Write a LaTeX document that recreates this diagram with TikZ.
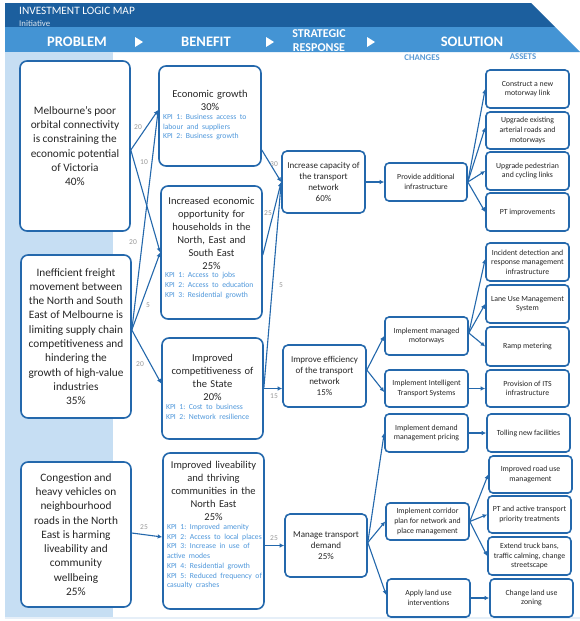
\documentclass[tikz,border=0pt]{standalone}
\usepackage{fontspec}
\setmainfont{Carlito}
\usetikzlibrary{arrows.meta}
\definecolor{bdr}{HTML}{2468AC}
\definecolor{hdark}{HTML}{1C5F9E}
\definecolor{hlight}{HTML}{4494D4}
\definecolor{pale}{HTML}{C6DEF3}
\definecolor{faint}{HTML}{E6EFF8}
\definecolor{kpic}{HTML}{4E97DB}
\definecolor{txt}{HTML}{262626}
\definecolor{lblc}{HTML}{9A9A9A}
\definecolor{subh}{HTML}{5B9BD5}
\newcommand\fsProb{\fontsize{11.3}{14.3}\selectfont}
\newcommand\fsBen{\fontsize{10.5}{13}\selectfont}
\newcommand\fsKpi{\fontsize{7.7}{9.7}\selectfont}
\newcommand\fsStr{\fontsize{9}{11}\selectfont}
\newcommand\fsSm{\fontsize{7.8}{9.6}\selectfont}
\newcommand\fsLbl{\fontsize{7.5}{9}\selectfont}
\newcommand\kpiblock[1]{\par\vspace{1pt}\noindent{\fsKpi\frenchspacing\color{kpic}\begin{tabular}{@{}l@{}}#1\end{tabular}\par}}
\begin{document}
\frenchspacing
\begin{tikzpicture}[x=1pt,y=-1pt,
  basebox/.style={draw=bdr, line width=1.6pt, fill=white, inner sep=0pt, text=txt},
  probbox/.style={basebox, rounded corners=7pt, align=center, font=\fsProb},
  benbox/.style={basebox, rounded corners=7pt, font=\fsBen},
  strbox/.style={basebox, rounded corners=5pt, align=center, font=\fsStr},
  smbox/.style={basebox, rounded corners=4pt, align=center, font=\fsSm},
  conn/.style={draw=bdr, line width=1.1pt, -{Latex[length=4.5pt,width=4.5pt]}},
  lbl/.style={text=lblc, font=\fsLbl, inner sep=0pt},
  hdr/.style={text=white, font=\fontsize{14.5}{16}\selectfont\bfseries, inner sep=0pt},
  subhdr/.style={text=subh, font=\fontsize{8.8}{10}\selectfont\bfseries, inner sep=0pt}]
\useasboundingbox (0,0) rectangle (580,621);
\fill[white] (0,0) rectangle (580,621);
% header
\fill[hdark] (5,3) -- (531,3) -- (555,27) -- (5,27) -- cycle;
\fill[hlight] (5,27) -- (555,27) -- (580,52) -- (5,52) -- cycle;
\fill[pale] (5,52) rectangle (113,617);
\draw[faint, line width=2pt] (5,618) -- (580,618);
\node[anchor=west, text=white, font=\fontsize{11.3}{13}\selectfont, inner sep=0pt] (ttl) at (19,10.5) {INVESTMENT LOGIC MAP};
\node[anchor=west, text=white!85!hdark, font=\fontsize{8.8}{10}\selectfont, inner sep=0pt] (ini) at (19,23.5) {Initiative};
\node[hdr] (hp) at (77,42) {PROBLEM};
\node[hdr] (hb) at (206,42) {BENEFIT};
\node[hdr, font=\fontsize{12}{14}\selectfont\bfseries, align=center] (hs) at (319,41) {STRATEGIC\\RESPONSE};
\node[hdr] (hso) at (472,42) {SOLUTION};
\fill[white] (135,37) -- (143,42) -- (135,47) -- cycle;
\fill[white] (266,37) -- (274,42) -- (266,47) -- cycle;
\fill[white] (367,37) -- (375,42) -- (367,47) -- cycle;
\node[subhdr] (hch) at (422,58) {CHANGES};
\node[subhdr] (has) at (523,57) {ASSETS};
% problems
\node[probbox, minimum width=110pt, minimum height=170pt] (p1) at (75,146)
  {Melbourne's poor\\orbital connectivity\\is constraining the\\economic potential\\of Victoria\\40\%};
\node[probbox, minimum width=110pt, minimum height=163pt] (p2) at (76,336.5)
  {Inefficient freight\\movement between\\the North and South\\East of Melbourne is\\limiting supply chain\\competitiveness and\\hindering the\\growth of high-value\\industries\\35\%};
\node[probbox, minimum width=110pt, minimum height=145pt] (p3) at (76,534.5)
  {Congestion and\\heavy vehicles on\\neighbourhood\\roads in the North\\East is harming\\liveability and\\community\\wellbeing\\25\%};
% benefits
\node[benbox, minimum width=102pt, minimum height=100pt, text width=94pt] (b1) at (210,116)
  {{\centering Economic growth\\30\%\par}\kpiblock{KPI 1: Business access to\\labour and suppliers\\KPI 2: Business growth}};
\node[benbox, minimum width=101pt, minimum height=133pt, text width=93pt] (b2) at (211.5,252.5)
  {{\centering Increased economic\\opportunity for\\households in the\\North, East and\\South East\\25\%\par}\kpiblock{KPI 1: Access to jobs\\KPI 2: Access to education\\KPI 3: Residential growth}\vspace{8pt}};
\node[benbox, minimum width=101pt, minimum height=101pt, text width=93pt] (b3) at (212.5,388.5)
  {{\centering Improved\\competitiveness of\\the State\\20\%\par}\kpiblock{KPI 1: Cost to business\\KPI 2: Network resilience}};
\node[benbox, minimum width=101pt, minimum height=156pt, text width=93pt] (b4) at (213.5,531)
  {{\centering Improved liveability\\and thriving\\communities in the\\North East\\25\%\par}\kpiblock{KPI 1: Improved amenity\\KPI 2: Access to local places\\KPI 3: Increase in use of\\active modes\\KPI 4: Residential growth\\KPI 5: Reduced frequency of\\casualty crashes}\vspace{10pt}};
% strategic responses
\node[strbox, minimum width=83pt, minimum height=62pt] (s1) at (323.5,182) {Increase capacity of\\the transport\\network\\60\%};
\node[strbox, minimum width=83pt, minimum height=62pt] (s2) at (324.5,376) {Improve efficiency\\of the transport\\network\\15\%};
\node[strbox, minimum width=82pt, minimum height=63pt] (s3) at (326,545.5) {Manage transport\\demand\\25\%};
% changes
\node[smbox, minimum width=82pt, minimum height=38pt] (c1) at (426,182) {Provide additional\\infrastructure};
\node[smbox, minimum width=83pt, minimum height=38pt] (c2) at (426.5,336) {Implement managed\\motorways};
\node[smbox, minimum width=83pt, minimum height=37pt] (c3) at (426.5,388.5) {Implement Intelligent\\Transport Systems};
\node[smbox, minimum width=83pt, minimum height=38pt] (c4) at (426.5,433) {Implement demand\\management pricing};
\node[smbox, minimum width=83pt, minimum height=37pt] (c5) at (427.5,521.5) {Implement corridor\\plan for network and\\place management};
\node[smbox, minimum width=83pt, minimum height=38pt] (c6) at (428.5,598) {Apply land use\\interventions};
% assets
\node[smbox, minimum width=83pt, minimum height=38pt] (a1) at (527.5,89) {Construct a new\\motorway link};
\node[smbox, minimum width=83pt, minimum height=37pt] (a2) at (527.5,130.5) {Upgrade existing\\arterial roads and\\motorways};
\node[smbox, minimum width=83pt, minimum height=38pt] (a3) at (527.5,171) {Upgrade pedestrian\\and cycling links};
\node[smbox, minimum width=83pt, minimum height=38pt] (a4) at (527.5,212) {PT improvements};
\node[smbox, minimum width=83pt, minimum height=38pt] (a5) at (527.5,262) {Incident detection and\\response management\\infrastructure};
\node[smbox, minimum width=83pt, minimum height=38pt] (a6) at (527.5,304) {Lane Use Management\\System};
\node[smbox, minimum width=83pt, minimum height=39pt] (a7) at (527.5,346.5) {Ramp metering};
\node[smbox, minimum width=83pt, minimum height=37pt] (a8) at (527.5,388.5) {Provision of ITS\\infrastructure};
\node[smbox, minimum width=83pt, minimum height=38pt] (a9) at (528.5,433) {Tolling new facilities};
\node[smbox, minimum width=83pt, minimum height=37pt] (a10) at (530.5,474.5) {Improved road use\\management};
\node[smbox, minimum width=83pt, minimum height=37pt] (a11) at (529.5,514.5) {PT and active transport\\priority treatments};
\node[smbox, minimum width=83pt, minimum height=38pt] (a12) at (529.5,556) {Extend truck bans,\\traffic calming, change\\streetscape};
\node[smbox, minimum width=83pt, minimum height=38pt] (a13) at (531.5,598) {Change land use\\zoning};
% problem -> benefit
\draw[conn] ([yshift=-4pt]p1.east) -- ([yshift=6pt]b1.west);
\draw[conn] ([yshift=-4pt]p1.east) -- (b2.west);
\draw[conn] ([yshift=6.5pt]p2.east) -- ([yshift=6pt]b1.west);
\draw[conn] ([yshift=6.5pt]p2.east) -- (b2.west);
\draw[conn] ([yshift=6.5pt]p2.east) -- ([yshift=5pt]b3.west);
\draw[conn] ([yshift=1.5pt]p3.east) -- ([yshift=-6pt]b4.west);
\node[lbl] (l1) at (138,127) {20};
\node[lbl] (l2) at (144,162) {10};
\node[lbl] (l3) at (133,242) {20};
\node[lbl] (l4) at (148,305) {5};
\node[lbl] (l5) at (140,364) {20};
\node[lbl] (l6) at (144,527) {25};
% benefit -> strategic
\draw[conn] ([yshift=-34pt]b1.east) -- (s1.west);
\draw[conn] ([yshift=-2.5pt]b2.east) -- (s1.west);
\draw[conn] (b3.east) -- (s1.west);
\draw[conn] (b3.east) -- (b3.east -| s2.west);
\draw[conn] (s3.west -| b4.east) -- (s3.west);
\node[lbl] (l7) at (274,164) {30};
\node[lbl] (l8) at (268,213) {25};
\node[lbl] (l9) at (281,285) {5};
\node[lbl] (l10) at (274,396) {15};
\node[lbl] (l11) at (274,538) {25};
% strategic -> changes
\draw[conn] (s1.east) -- (c1.west);
\draw[conn] ([yshift=6pt]s2.east) -- (c2.west);
\draw[conn] ([yshift=6pt]s2.east) -- ([yshift=-3.5pt]c3.west);
\draw[conn] ([yshift=3pt]s3.east) -- (c4.west);
\draw[conn] ([yshift=3pt]s3.east) -- (c5.west);
\draw[conn] ([yshift=3pt]s3.east) -- ([yshift=3pt]c6.west);
% changes -> assets
\draw[conn] (c1.east) -- (a1.west);
\draw[conn] (c1.east) -- ([yshift=3pt]a2.west);
\draw[conn] (c1.east) -- (a3.west);
\draw[conn] (c1.east) -- (a4.west);
\draw[conn] ([yshift=3pt]c2.east) -- ([yshift=3pt]a5.west);
\draw[conn] ([yshift=3pt]c2.east) -- (a6.west);
\draw[conn] ([yshift=3pt]c2.east) -- (a7.west);
\draw[conn] (c3.east) -- (a8.west);
\draw[conn] (c4.east) -- (a9.west);
\draw[conn] (c5.east) -- (a10.west);
\draw[conn] (c5.east) -- (a11.west);
\draw[conn] (c5.east) -- (a12.west);
\draw[conn] (c6.east) -- (a13.west);
\end{tikzpicture}
\end{document}
